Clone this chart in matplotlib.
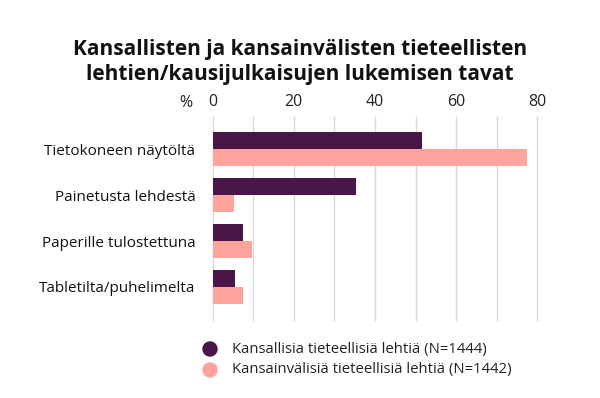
import matplotlib
matplotlib.use('Agg')
import matplotlib.pyplot as plt
import numpy as np

# ── data ──
categories = ['Tietokoneen näytöltä', 'Painetusta lehdestä',
              'Paperille tulostettuna', 'Tabletilta/puhelimelta']
kansalliset = [51.7, 35.4, 7.5, 5.5]
kansainvaliset = [77.5, 5.3, 9.6, 7.5]
series_labels = ['Kansallisia tieteellisiä lehtiä (N=1444)',
                 'Kansainvälisiä tieteellisiä lehtiä (N=1442)']
xticks = [0, 20, 40, 60, 80]
title = 'Kansallisten ja kansainvälisten tieteellisten\nlehtien/kausijulkaisujen lukemisen tavat'

DARK = '#4a1548'
PINK = '#ffa49c'

plt.rcParams['font.family'] = ['Open Sans', 'DejaVu Sans']

fig = plt.figure(figsize=(6, 3.98), dpi=100)
ax = fig.add_axes([0.3545, 0.196, 0.541, 0.510])

y = np.arange(len(categories))
h = 0.363
ax.barh(y - h / 2, kansalliset, height=h, color=DARK, zorder=3)
ax.barh(y + h / 2, kansainvaliset, height=h, color=PINK, zorder=3)

ax.set_xlim(0, 80)
ax.set_ylim(3.72, -0.70)
for gx in range(0, 81, 10):
    ax.axvline(gx, color='#d9d9d9', lw=1, zorder=1, clip_on=False)

ax.xaxis.tick_top()
ax.set_xticks(xticks)
ax.set_xticklabels([str(t) for t in xticks], fontsize=11.5, color='#222222')
ax.tick_params(axis='x', length=0, pad=5)
ax.set_yticks(y)
ax.set_yticklabels(categories, fontsize=11, color='#111111')
ax.tick_params(axis='y', length=0, pad=12.5)
for s in ax.spines.values():
    s.set_visible(False)

fig.text(186 / 600, 1 - 103 / 398, '%', fontsize=11.5, ha='center', va='center',
         color='#222222')
fig.text(0.5, 1 - 62 / 398, title, fontsize=15, fontweight='bold', ha='center',
         va='center', linespacing=1.3, color='#111111')

# legend
for i, (lab, col) in enumerate(zip(series_labels, [DARK, PINK])):
    yy = 1 - (349 + 21 * i) / 398
    fig.patches.append(matplotlib.patches.Ellipse(
        (210 / 600, yy), 14 / 600, 14 / 398, transform=fig.transFigure,
        color=col))
    fig.text(232 / 600, yy, lab, fontsize=10.7, va='center', color='#222222')

fig.savefig('out.png', dpi=100)
